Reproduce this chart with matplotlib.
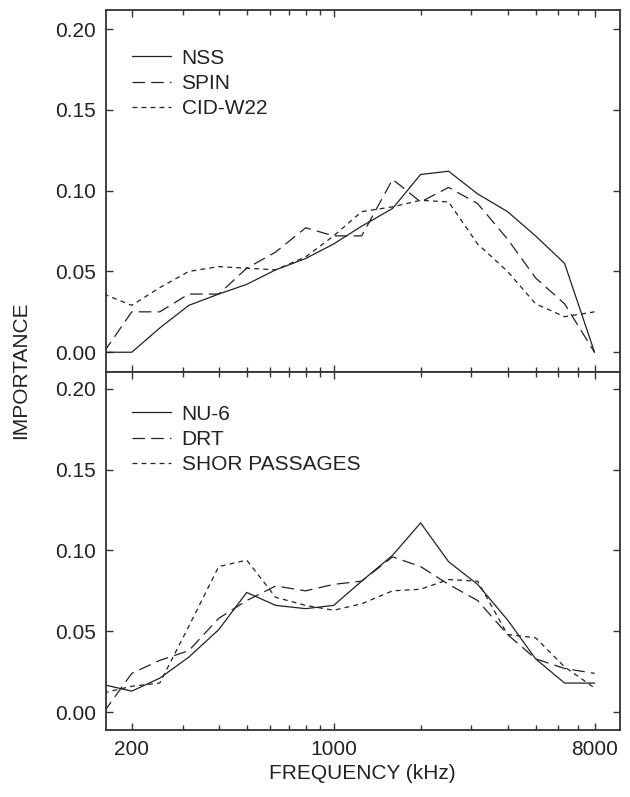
import matplotlib
matplotlib.use("Agg")
import matplotlib.pyplot as plt
from matplotlib.ticker import FixedLocator, NullFormatter

# third-octave band centre frequencies
freqs = [160, 200, 250, 315, 400, 500, 630, 800, 1000, 1250,
         1600, 2000, 2500, 3150, 4000, 5000, 6300, 8000]

# top panel
nss = [0.000, 0.000, 0.015, 0.029, 0.036, 0.042, 0.051, 0.058, 0.067, 0.078,
       0.089, 0.110, 0.112, 0.098, 0.087, 0.072, 0.055, 0.000]
spin = [0.000, 0.025, 0.025, 0.036, 0.036, 0.052, 0.062, 0.077, 0.072, 0.072,
        0.107, 0.093, 0.102, 0.092, 0.070, 0.046, 0.030, 0.000]
cid_w22 = [0.036, 0.029, 0.040, 0.050, 0.053, 0.052, 0.051, 0.059, 0.072, 0.087,
           0.090, 0.094, 0.093, 0.067, 0.050, 0.030, 0.022, 0.025]

# bottom panel
nu6 = [0.017, 0.013, 0.021, 0.034, 0.051, 0.074, 0.066, 0.064, 0.066, 0.081,
       0.097, 0.117, 0.093, 0.079, 0.057, 0.033, 0.018, 0.018]
drt = [0.000, 0.024, 0.032, 0.038, 0.058, 0.069, 0.078, 0.075, 0.079, 0.081,
       0.096, 0.090, 0.079, 0.069, 0.048, 0.033, 0.027, 0.024]
shor = [0.012, 0.016, 0.018, 0.053, 0.090, 0.094, 0.071, 0.066, 0.063, 0.067,
        0.075, 0.076, 0.082, 0.081, 0.048, 0.046, 0.028, 0.015]

top_labels = ["NSS", "SPIN", "CID-W22"]
bottom_labels = ["NU-6", "DRT", "SHOR PASSAGES"]
yticks = [0.00, 0.05, 0.10, 0.15, 0.20]
xmajor = [200, 1000, 8000]
xminor = [300, 400, 500, 600, 700, 800, 900, 2000, 3000, 4000, 5000, 6000, 7000]

plt.rcParams['font.family'] = ['Liberation Sans', 'DejaVu Sans']
plt.rcParams['font.size'] = 15
plt.rcParams['lines.scale_dashes'] = False

ink = '#222222'
frame = '#333333'
styles = [dict(linestyle='-'),
          dict(linestyle=(0, (9, 4.5))),
          dict(linestyle=(0, (3.5, 3)))]

fig = plt.figure(figsize=(6.3, 7.97), dpi=100)
ax_top = fig.add_axes([0.1678, 0.5333, 0.8163, 0.4542])
ax_bot = fig.add_axes([0.1678, 0.0841, 0.8163, 0.4492])


def style_axes(ax, ylim):
    ax.set_xscale('log')
    ax.set_xlim(162.5, 9800)
    ax.set_ylim(*ylim)
    ax.xaxis.set_major_locator(FixedLocator(xmajor))
    ax.xaxis.set_minor_locator(FixedLocator(xminor))
    ax.xaxis.set_minor_formatter(NullFormatter())
    ax.set_xticklabels([str(v) for v in xmajor])
    ax.set_yticks(yticks)
    ax.set_yticklabels(["%.2f" % v for v in yticks])
    ax.tick_params(which='both', direction='in', top=True, right=True,
                   color=frame, labelcolor=ink, width=1.0)
    ax.tick_params(which='major', length=5, pad=7)
    ax.tick_params(which='minor', length=3.5)
    for sp in ax.spines.values():
        sp.set_color(frame)
        sp.set_linewidth(1.3)


def draw_panel(ax, series, labels, anchor):
    for vals, lab, st in zip(series, labels, styles):
        ax.plot(freqs, vals, color=ink, linewidth=0.9, label=lab, **st)
    ax.legend(loc='upper left', bbox_to_anchor=anchor, frameon=False,
              handlelength=1.9, handletextpad=0.5, labelspacing=0.3,
              borderaxespad=0.0, labelcolor=ink)


draw_panel(ax_top, [nss, spin, cid_w22], top_labels, (0.034, 0.916))
draw_panel(ax_bot, [nu6, drt, shor], bottom_labels, (0.034, 0.932))
style_axes(ax_top, (-0.0122, 0.2118))
style_axes(ax_bot, (-0.011, 0.2103))
ax_top.tick_params(labelbottom=False)

fig.text(0.032, 0.535, "IMPORTANCE", rotation=90, ha='center', va='center',
         color=ink)
fig.text(0.5756, 0.030, "FREQUENCY (kHz)", ha='center', va='center', color=ink)

fig.savefig("out.png", dpi=100)
